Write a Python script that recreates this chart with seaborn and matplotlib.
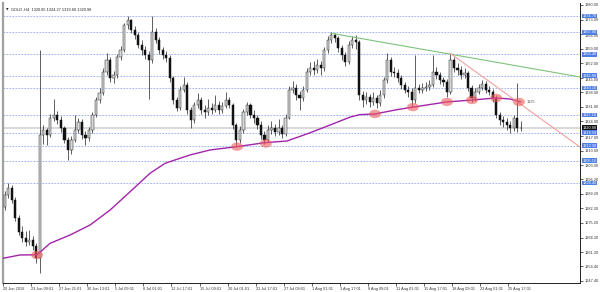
import matplotlib
matplotlib.use("Agg")
import matplotlib.pyplot as plt
import matplotlib.transforms as mtransforms
from matplotlib.patches import Ellipse
import numpy as np
import pandas as pd
import seaborn as sns

# ---------------- data ----------------
header = "GOLD ,H4  1320.85 1324.27 1319.60 1320.98"
first_open = 1283.0
closes = [
    1288.6, 1292.0, 1286.2, 1277.6, 1270.9, 1268.0, 1266.0, 1267.0, 1264.1, 1258.4,
    1317.5, 1319.9, 1317.5, 1325.7, 1327.1, 1324.7, 1320.9, 1315.1, 1310.3, 1315.1,
    1319.9, 1323.7, 1317.5, 1316.0, 1319.9, 1327.1, 1334.3, 1337.7, 1347.8, 1353.6,
    1344.9, 1346.3, 1355.0, 1358.4, 1370.4, 1372.8, 1368.0, 1365.6, 1360.8, 1358.4,
    1356.0, 1353.6, 1367.0, 1363.2, 1358.4, 1356.0, 1354.5, 1344.9, 1334.3, 1330.5,
    1339.1, 1341.5, 1329.5, 1324.7, 1331.9, 1334.3, 1329.5, 1328.5, 1330.5, 1329.5,
    1331.9, 1329.5, 1331.4, 1334.3, 1331.9, 1322.3, 1315.1, 1319.9, 1328.5, 1331.9,
    1327.1, 1325.7, 1322.3, 1317.5, 1315.1, 1319.9, 1320.9, 1318.9, 1320.9, 1318.0,
    1325.7, 1339.1, 1340.1, 1336.7, 1335.3, 1339.1, 1347.8, 1349.7, 1348.7, 1351.2,
    1349.7, 1358.4, 1363.2, 1365.6, 1364.1, 1359.3, 1356.0, 1352.6, 1360.8, 1363.2,
    1362.2, 1336.7, 1334.3, 1335.8, 1333.4, 1335.3, 1332.9, 1336.7, 1343.9, 1353.6,
    1347.8, 1347.3, 1344.9, 1341.5, 1339.1, 1338.2, 1334.3, 1340.1, 1339.1, 1340.1,
    1340.6, 1341.5, 1347.8, 1346.3, 1343.9, 1343.0, 1338.2, 1353.6, 1349.7, 1348.7,
    1346.3, 1347.3, 1340.1, 1335.3, 1338.2, 1340.1, 1342.0, 1339.1, 1338.2, 1335.3,
    1327.1, 1324.7, 1323.7, 1322.3, 1320.9, 1325.7, 1320.85, 1320.98]
highs = [
    1290.5, 1294.2, 1293.5, 1287.5, 1279.0, 1273.5, 1271.5, 1272.0, 1269.0, 1265.5,
    1358.4, 1322.5, 1321.0, 1327.5, 1335.0, 1329.0, 1326.5, 1322.0, 1316.5, 1316.8,
    1327.1, 1325.5, 1325.0, 1319.5, 1321.5, 1328.5, 1336.0, 1340.0, 1349.5, 1356.9,
    1355.0, 1348.5, 1356.5, 1360.5, 1371.5, 1374.7, 1373.5, 1370.0, 1367.0, 1363.0,
    1360.5, 1358.0, 1374.7, 1369.0, 1364.5, 1360.0, 1358.0, 1356.0, 1346.0, 1336.0,
    1341.0, 1345.4, 1343.0, 1331.0, 1333.5, 1337.7, 1336.0, 1332.0, 1335.0, 1333.0,
    1336.5, 1334.0, 1333.5, 1338.2, 1336.0, 1333.0, 1323.5, 1322.0, 1330.0, 1333.4,
    1333.0, 1329.5, 1327.0, 1324.0, 1319.5, 1322.5, 1324.0, 1323.0, 1325.0, 1322.5,
    1327.5, 1341.0, 1343.5, 1342.0, 1338.5, 1341.0, 1349.5, 1352.5, 1353.0, 1354.0,
    1353.0, 1360.0, 1365.0, 1367.0, 1366.5, 1365.0, 1361.0, 1357.5, 1362.5, 1365.0,
    1365.6, 1363.0, 1338.5, 1338.0, 1337.0, 1338.0, 1336.5, 1339.0, 1345.5, 1356.9,
    1355.0, 1350.0, 1349.0, 1346.5, 1343.0, 1341.0, 1340.0, 1356.0, 1342.0, 1342.5,
    1343.0, 1344.0, 1356.0, 1350.0, 1348.0, 1345.5, 1344.5, 1356.9, 1355.0, 1352.0,
    1350.5, 1349.5, 1348.5, 1341.5, 1340.0, 1342.0, 1343.9, 1343.5, 1341.0, 1339.5,
    1336.5, 1328.5, 1326.5, 1325.5, 1324.0, 1327.0, 1342.5, 1324.27]
lows = [
    1281.5, 1287.0, 1284.8, 1276.0, 1269.5, 1266.2, 1264.0, 1264.5, 1262.0, 1256.0,
    1251.1, 1313.0, 1312.5, 1316.5, 1324.0, 1323.0, 1319.0, 1313.5, 1305.5, 1308.5,
    1314.0, 1318.5, 1315.5, 1312.8, 1314.5, 1318.5, 1326.0, 1333.0, 1336.5, 1346.5,
    1343.0, 1342.5, 1345.0, 1353.5, 1357.5, 1368.5, 1366.5, 1363.5, 1359.5, 1356.0,
    1354.0, 1334.8, 1352.0, 1361.5, 1356.5, 1354.0, 1352.5, 1343.0, 1332.5, 1329.0,
    1329.5, 1338.0, 1327.5, 1320.9, 1323.5, 1330.5, 1327.5, 1325.5, 1327.0, 1327.5,
    1328.5, 1327.5, 1328.0, 1330.5, 1330.5, 1320.5, 1312.7, 1313.5, 1318.5, 1327.0,
    1325.5, 1323.5, 1320.5, 1315.5, 1313.2, 1314.0, 1318.0, 1317.0, 1317.5, 1316.0,
    1317.0, 1325.0, 1337.5, 1334.5, 1329.5, 1334.0, 1338.0, 1346.5, 1346.5, 1347.5,
    1346.5, 1348.5, 1357.0, 1361.5, 1362.0, 1357.5, 1353.5, 1350.5, 1351.5, 1359.5,
    1359.0, 1334.5, 1331.0, 1332.5, 1331.0, 1332.0, 1330.5, 1331.5, 1335.5, 1342.5,
    1346.0, 1345.5, 1343.0, 1339.5, 1337.5, 1336.0, 1331.0, 1333.0, 1337.5, 1337.5,
    1338.5, 1339.0, 1340.5, 1344.5, 1342.0, 1341.0, 1335.8, 1337.0, 1348.0, 1346.5,
    1344.5, 1345.0, 1338.5, 1333.4, 1334.0, 1337.0, 1339.0, 1337.5, 1336.5, 1333.5,
    1325.5, 1322.5, 1321.5, 1320.0, 1318.5, 1319.5, 1319.0, 1319.60]

# moving average (purple), read at selected bars
ma_bar = [-0.5, 4.3, 9.2, 12.9, 18.6, 24.3, 30.0, 35.7, 41.4, 45.7, 52.8, 58.5, 66.2,
          74.1, 80.4, 86.9, 92.7, 98.4, 101.2, 105.5, 111.2, 116.3, 126.0, 133.1,
          140.0, 144.0, 147.0]
ma_val = [1258.2, 1259.8, 1259.9, 1265.4, 1269.4, 1274.2, 1281.4, 1290.2, 1299.1,
          1303.9, 1307.9, 1310.3, 1311.9, 1313.8, 1314.6, 1318.5, 1322.3, 1326.1,
          1327.3, 1327.6, 1329.5, 1330.9, 1333.4, 1334.3, 1335.3, 1334.8, 1333.4]

# touches of the average (red marks)
touch_bar = [9.2, 66.2, 74.4, 105.5, 116.3, 126.0, 133.1, 140.0, 146.5]
touch_val = [1259.8, 1311.9, 1313.4, 1327.6, 1330.9, 1333.4, 1334.3, 1335.3, 1333.4]

# trend lines
green_bar = [92.7, 163.9]
green_val = [1366.5, 1345.4]
red_bar = [126.8, 163.9]
red_val = [1356.9, 1311.7]

# horizontal levels (dashed blue)
level_vals = [1374.70, 1367.00, 1356.40, 1345.90, 1340.10, 1327.10, 1318.50,
              1312.30, 1305.10, 1294.40]
current_price = 1320.98
ma_label = "1335"

ytick_vals = [1380.00, 1373.00, 1366.00, 1359.00, 1352.00, 1345.00, 1338.00, 1331.00,
              1324.00, 1317.00, 1310.00, 1303.00, 1296.20, 1289.20, 1282.20, 1275.20,
              1268.20, 1261.20, 1254.40, 1247.40]
xtick_labels = ["20 Jun 2016", "23 Jun 09:01", "27 Jun 21:01", "30 Jun 13:01",
                "5 Jul 09:01", "8 Jul 01:01", "12 Jul 17:01", "15 Jul 09:01",
                "20 Jul 01:01", "22 Jul 17:01", "27 Jul 09:01", "1 Aug 01:01",
                "3 Aug 17:01", "8 Aug 09:01", "11 Aug 01:01", "15 Aug 17:01",
                "18 Aug 09:01", "23 Aug 01:01", "25 Aug 17:01"]
bars_per_label = 8

# ---------------- figure ----------------
sns.set_style("white")
plt.rcParams['font.family'] = ['Liberation Sans', 'DejaVu Sans']
FS = 2.8

fig = plt.figure(figsize=(6.0, 2.92), dpi=100)
ax = fig.add_axes([3 / 600, 9 / 292, 577 / 600, 280 / 292])

df = pd.DataFrame({"close": closes, "high": highs, "low": lows})
df["open"] = [first_open] + closes[:-1]
df["bar"] = np.arange(len(df))
bull = df["close"] >= df["open"]

# levels
for v in level_vals:
    ax.axhline(v, color="#8ea6ea", lw=0.6, ls=(0, (2, 1.6)), zorder=1)
ax.axhline(current_price, color="#d9d9d9", lw=1.4, zorder=1)

# candles
ax.vlines(df["bar"], df["low"], df["high"], color="#333333", lw=0.55, zorder=3)
body_lo = np.minimum(df["open"], df["close"])
body_h = np.maximum(np.abs(df["close"] - df["open"]), 0.15)
ax.bar(df["bar"][bull], body_h[bull], bottom=body_lo[bull], width=0.62,
       color="#d8d8d8", edgecolor="#2a2a2a", linewidth=0.35, zorder=4)
ax.bar(df["bar"][~bull], body_h[~bull], bottom=body_lo[~bull], width=0.62,
       color="#111111", edgecolor="#111111", linewidth=0.35, zorder=4)

# moving average and trend lines
sns.lineplot(x=ma_bar, y=ma_val, ax=ax, color="#a224aa", lw=1.0, zorder=5,
             sort=False, estimator=None)
sns.lineplot(x=green_bar, y=green_val, ax=ax, color="#7dc47a", lw=0.8, zorder=5,
             estimator=None)
sns.lineplot(x=red_bar, y=red_val, ax=ax, color="#f4a0a0", lw=0.8, zorder=5,
             estimator=None)

for b, v in zip(touch_bar, touch_val):
    ax.add_patch(Ellipse((b, v), width=3.4, height=4.0, facecolor="#ee5a5a",
                         edgecolor="none", alpha=0.6, zorder=6))
ax.text(148.8, touch_val[-1], ma_label, fontsize=FS, color="#555555",
        va="center", ha="left", zorder=7)

# axes limits and ticks
ax.set_xlim(-0.5, 163.9)
ax.set_ylim(1246.33, 1380.96)
ax.yaxis.tick_right()
ax.set_yticks(ytick_vals)
ax.set_yticklabels([f"{v:.2f}" for v in ytick_vals], fontsize=FS, color="#333333")
xt = [k * bars_per_label - 0.5 for k in range(len(xtick_labels))]
ax.set_xticks(xt)
ax.set_xticklabels(xtick_labels, fontsize=FS, color="#333333")
for lab in ax.get_xticklabels():
    lab.set_horizontalalignment("left")
ax.tick_params(axis="both", direction="out", length=2, width=0.5, pad=1.2,
               color="#222222", bottom=True, right=True, left=False, top=False)
ax.set_xlabel("")
ax.set_ylabel("")
ax.spines["top"].set_visible(False)
ax.spines["left"].set_color("#a0a0a0")
ax.spines["left"].set_linewidth(1.6)
ax.spines["right"].set_color("#222222")
ax.spines["right"].set_linewidth(0.7)
ax.spines["bottom"].set_color("#222222")
ax.spines["bottom"].set_linewidth(0.7)

# level tags on the price axis
trans = mtransforms.blended_transform_factory(ax.transAxes, ax.transData)
tag_texts = []
for v in level_vals:
    t = ax.text(1.004, v, f"{v:.2f}", transform=trans, fontsize=FS, color="white",
                va="center", ha="left", clip_on=False, zorder=8,
                bbox=dict(boxstyle="square,pad=0.12", fc="#4f7fe0", ec="none"))
    tag_texts.append(t)
ax.text(1.004, current_price, f"{current_price:.2f}", transform=trans, fontsize=FS,
        color="white", va="center", ha="left", clip_on=False, zorder=9,
        bbox=dict(boxstyle="square,pad=0.12", fc="#111111", ec="none"))

# nudge tick labels that sit right under a tag so they stay readable
fig.canvas.draw()
for tick in ax.yaxis.get_major_ticks():
    lab = tick.label2
    val = tick.get_loc()
    close_tags = [lv for lv in level_vals if abs(lv - val) < 1.6]
    if close_tags:
        lv = close_tags[0]
        shift = -2.6 if val < lv else 2.6
        lab.set_transform(lab.get_transform() +
                          mtransforms.ScaledTranslation(0, shift / 72 * 0.5,
                                                        fig.dpi_scale_trans))

# header
ax.text(0.006, 0.985, "\u25BC", transform=ax.transAxes, fontsize=2.4, color="#222222",
        va="top", ha="left", family="DejaVu Sans")
ax.text(0.014, 0.985, header, transform=ax.transAxes, fontsize=FS, color="#222222",
        va="top", ha="left")

fig.savefig("out.png", dpi=100, facecolor="white")
